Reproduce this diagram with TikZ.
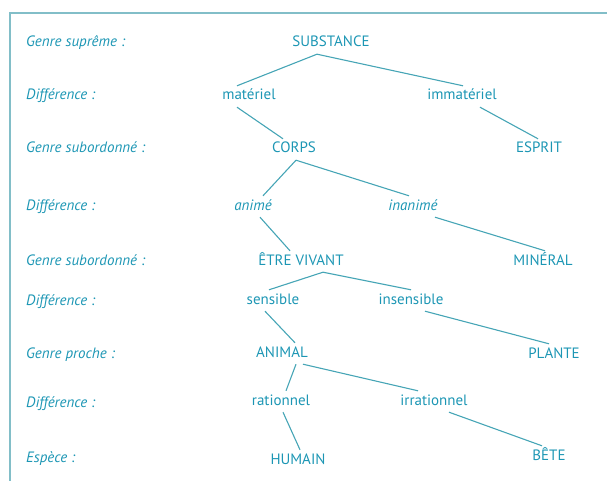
\documentclass[tikz,border=0pt]{standalone}
\usepackage{fontspec}
\setmainfont{PT Sans}
\usetikzlibrary{positioning}
\definecolor{teal1}{RGB}{28,150,180}
\definecolor{teal2}{RGB}{70,165,182}
\definecolor{framec}{RGB}{130,190,200}
\tikzset{
	term/.style={
		text=teal1,
		font=\fontsize{15}{17}\selectfont,
		anchor=base,
		text height=10pt,
		text depth=3pt,
		inner sep=4pt
	},
	diff/.style={
		term,
		font=\fontsize{15}{17}\selectfont\itshape
	},
	rowlabel/.style={
		term,
		anchor=base west,
		font=\fontsize{15}{17}\selectfont\itshape
	},
	link/.style={draw=teal2, line width=1.1pt}
}

\begin{document}
\begin{tikzpicture}[x=1pt, y=-1pt]
	\useasboundingbox (0,0) rectangle (607,481);
	\draw[framec, line width=1.5pt] (10,481) -- (10,13) -- (607,13);
	% row labels
	\foreach \y/\t in {47/Genre suprême :, 100/Différence :, 153/Genre subordonné :, 210/Différence :, 265/Genre subordonné :, 305/Différence :, 358/Genre proche :, 407/Différence :, 462/Espèce :}
		\node [rowlabel] (lab\y) at (22,\y) {\t};
	% tree
	\node [term] (sub) at (331,47) {SUBSTANCE};
	\node [term] (mat) at (249,100) {matériel};
	\node [term] (imm) at (462,100) {immatériel};
	\node [term] (corps) at (294,153) {CORPS};
	\node [term] (esprit) at (539,153) {ESPRIT};
	\node [diff] (anime) at (253,210) {animé};
	\node [diff] (inanime) at (413,210) {inanimé};
	\node [term] (etre) at (301,265) {ÊTRE VIVANT};
	\node [term] (mineral) at (543,265) {MINÉRAL};
	\node [term] (sens) at (273,304) {sensible};
	\node [term] (insens) at (411,304) {insensible};
	\node [term] (animal) at (282,357) {ANIMAL};
	\node [term] (plante) at (554,358) {PLANTE};
	\node [term] (rat) at (281,405) {rationnel};
	\node [term] (irrat) at (434,405) {irrationnel};
	\node [term] (humain) at (298,464) {HUMAIN};
	\node [term] (bete) at (549,460) {BÊTE};
	% links
	\draw [link] ([xshift=-14pt]sub.south) -- ([xshift=-12pt]mat.north);
	\draw [link] ([xshift=-14pt]sub.south) -- ([xshift=1pt]imm.north);
	\draw [link] ([xshift=-12pt]mat.south) -- ([xshift=-11pt]corps.north);
	\draw [link] ([xshift=18pt]imm.south) -- ([xshift=-1pt]esprit.north);
	\draw [link] ([xshift=2pt]corps.south) -- ([xshift=10pt]anime.north);
	\draw [link] ([xshift=2pt]corps.south) -- ([xshift=-4pt]inanime.north);
	\draw [link] ([xshift=7pt]anime.south) -- ([xshift=-11pt]etre.north);
	\draw [link] ([xshift=22pt]inanime.south) -- ([xshift=2pt]mineral.north);
	\draw [link] ([xshift=22pt]etre.south) -- ([xshift=-4pt]sens.north);
	\draw [link] ([xshift=22pt]etre.south) -- (insens.north);
	\draw [link] ([xshift=-8pt]sens.south) -- ([xshift=13pt]animal.north);
	\draw [link] ([xshift=14pt]insens.south) -- ([xshift=-5pt]plante.north);
	\draw [link] ([xshift=14pt]animal.south) -- ([xshift=5pt]rat.north);
	\draw [link] ([xshift=21pt]animal.south) -- ([xshift=-16pt]irrat.north);
	\draw [link] ([xshift=2pt]rat.south) -- ([xshift=2pt]humain.north);
	\draw [link] ([xshift=15pt]irrat.south) -- ([xshift=-7pt]bete.north);
\end{tikzpicture}
\end{document}
